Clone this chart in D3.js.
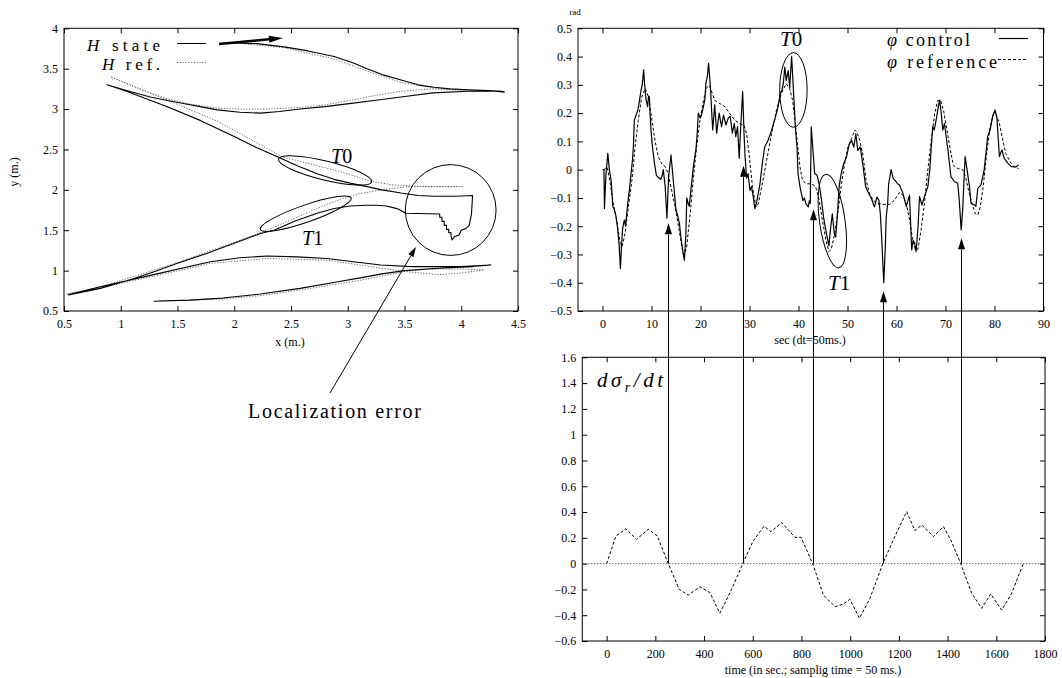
<!DOCTYPE html>
<html><head><meta charset="utf-8">
<script src="https://cdn.jsdelivr.net/npm/d3@7"></script>
<style>body{margin:0;background:#fff}</style>
</head><body><svg id="c" width="1062" height="678"></svg>
<script>
// ---------------- DATA ----------------
// Left panel: robot trajectory (x,y in metres)
const hState = [[2.00,3.82],[2.20,3.81],[2.44,3.77],[2.65,3.72],[2.88,3.65],[3.05,3.57],[3.17,3.50],[3.32,3.42],[3.47,3.36],[3.62,3.30],[3.76,3.27],[3.90,3.25],[4.06,3.24],[4.25,3.23],[4.36,3.22],[4.38,3.21],
 [4.30,3.22],[4.06,3.22],[3.75,3.20],[3.47,3.15],[3.25,3.11],[3.03,3.07],[2.80,3.03],[2.58,3.00],[2.40,2.97],[2.23,2.95],[2.05,2.96],[1.85,2.99],[1.70,3.03],[1.55,3.07],[1.40,3.11],[1.26,3.15],[1.05,3.23],[0.88,3.30],
 [1.05,3.22],[1.41,3.03],[1.70,2.86],[2.00,2.66],[2.20,2.52],[2.38,2.41],[2.55,2.30],[2.73,2.20],[2.88,2.13],[3.03,2.08],[3.17,2.04],[3.30,2.00],[3.47,1.96],[3.62,1.93],[3.76,1.92],[3.95,1.92],[4.10,1.93],
 [4.09,1.70],[4.07,1.56],[4.04,1.52],[4.00,1.50],[3.98,1.44],[3.94,1.42],[3.92,1.38],[3.91,1.42],[3.91,1.47],[3.89,1.47],[3.89,1.51],[3.87,1.51],[3.87,1.56],[3.85,1.56],[3.85,1.61],[3.83,1.61],[3.83,1.66],[3.81,1.66],[3.81,1.70],[3.51,1.71],
 [3.45,1.76],[3.40,1.78],[3.34,1.80],[3.25,1.81],[3.16,1.81],[3.02,1.80],[2.88,1.77],[2.73,1.71],[2.53,1.61],[2.35,1.50],[2.23,1.46],[2.00,1.34],[1.75,1.21],[1.50,1.09],[1.30,0.99],[1.11,0.90],[0.82,0.78],[0.54,0.70],
 [0.82,0.80],[1.29,0.95],[1.79,1.11],[2.05,1.16],[2.29,1.18],[2.55,1.17],[2.82,1.15],[3.05,1.11],[3.29,1.07],[3.56,1.05],[4.00,1.05],[4.26,1.07],
 [4.10,1.05],[3.80,1.03],[3.50,1.00],[3.30,0.96],[3.11,0.91],[2.90,0.86],[2.58,0.78],[2.23,0.71],[1.90,0.66],[1.60,0.635],[1.29,0.62]];
const hRef = [[2.00,3.82],[2.44,3.76],[2.88,3.62],[3.17,3.47],[3.47,3.33],[3.76,3.26],[4.06,3.23],[4.22,3.22],
 [4.06,3.23],[3.76,3.25],[3.47,3.22],[3.25,3.17],[3.03,3.11],[2.80,3.05],[2.58,3.02],[2.30,3.00],[2.05,3.00],[1.85,3.01],[1.62,3.06],[1.40,3.13],[1.20,3.23],[0.91,3.40],
 [1.38,3.13],[1.85,2.85],[2.10,2.66],[2.42,2.41],[2.70,2.31],[3.00,2.20],[3.19,2.11],[3.40,2.06],[3.70,2.04],[4.01,2.04],
 [3.53,2.04],[3.30,2.00],[3.10,1.95],[2.95,1.89],[2.78,1.80],[2.60,1.69],[2.42,1.58],[2.25,1.48],[2.00,1.35],[1.50,1.10],[1.10,0.92],[0.80,0.79],[0.52,0.71],
 [0.82,0.79],[1.29,0.93],[1.79,1.09],[2.29,1.15],[2.82,1.13],[3.29,1.03],[3.56,0.98],[3.80,0.95],[4.00,0.97],[4.20,1.01],
 [4.00,1.02],[3.70,1.02],[3.50,0.99],[3.11,0.88],[2.58,0.76],[2.23,0.69],[1.90,0.65],[1.60,0.63],[1.35,0.63]];
const leftXTicks = [0.5,1,1.5,2,2.5,3,3.5,4,4.5];
const leftXLabels = ["0.5","1","1.5","2","2.5","3","3.5","4","4.5"];
const leftYTicks = [0.5,1,1.5,2,2.5,3,3.5,4];
const leftYLabels = ["0.5","1","1.5","2","2.5","3","3.5","4"];

// Top-right panel: steering angle phi (rad) vs time (s)
const phiControl = [[0.0,0.0],[0.3,0.0],[0.4,-0.137],[0.7,-0.02],[1.08,0.058],[1.4,0.0],[1.75,-0.036],[2.1,-0.13],[2.4,-0.14],[2.77,-0.166],[3.1,-0.21],[3.4,-0.27],[3.66,-0.35],[3.85,-0.28],[4.1,-0.21],[4.3,-0.19],[4.48,-0.178],[4.7,-0.2],[5.15,-0.12],[5.5,-0.07],[5.83,-0.013],[6.1,0.03],[6.3,0.08],[6.5,0.176],[6.8,0.19],[7.0,0.2],[7.2,0.21],[7.5,0.24],[7.86,0.28],[8.1,0.3],[8.4,0.353],[8.6,0.3],[8.9,0.247],[9.2,0.223],[9.4,0.26],[9.57,0.258],[9.7,0.2],[9.9,0.14],[10.2,0.08],[10.6,0.023],[11.0,-0.02],[11.26,-0.025],[11.9,-0.034],[12.2,-0.02],[12.4,0.0],[12.8,-0.06],[13.15,-0.172],[13.5,-0.025],[13.97,0.052],[14.2,0.01],[14.5,-0.048],[15.0,-0.143],[15.3,-0.16],[15.7,-0.19],[16.0,-0.24],[16.35,-0.284],[16.7,-0.32],[17.0,-0.237],[17.2,-0.10],[17.5,-0.12],[17.7,-0.13],[18.0,-0.08],[18.4,-0.013],[18.7,0.03],[19.06,0.07],[19.3,0.12],[19.55,0.2],[19.96,0.182],[20.3,0.2],[20.6,0.223],[20.9,0.25],[21.1,0.306],[21.4,0.33],[21.65,0.376],[21.9,0.32],[22.1,0.27],[22.3,0.2],[22.5,0.14],[22.9,0.229],[23.3,0.129],[23.8,0.2],[24.3,0.152],[24.7,0.193],[25.2,0.158],[25.66,0.182],[26.07,0.188],[26.5,0.129],[26.9,0.164],[27.2,0.117],[27.56,0.152],[27.9,0.04],[28.2,0.15],[28.6,0.276],[28.9,0.12],[29.1,0.046],[29.4,-0.03],[29.7,-0.014],[30.1,-0.073],[30.4,-0.06],[30.8,-0.1],[31.1,-0.138],[31.4,-0.12],[32.1,-0.055],[32.6,0.02],[33.1,0.08],[33.8,0.104],[34.5,0.139],[35.2,0.18],[35.8,0.22],[36.3,0.27],[36.6,0.28],[36.9,0.304],[37.2,0.363],[37.5,0.316],[37.9,0.35],[38.2,0.29],[38.6,0.40],[39.0,0.27],[39.4,0.14],[39.7,0.08],[39.9,-0.014],[40.3,-0.06],[40.6,-0.085],[40.9,-0.11],[41.2,-0.1],[41.5,-0.12],[42.0,-0.132],[42.2,-0.11],[42.4,-0.12],[42.6,0.151],[43.0,0.057],[43.3,-0.014],[43.8,-0.02],[44.2,-0.05],[44.7,-0.108],[45.1,-0.167],[45.7,-0.226],[46.2,-0.27],[46.5,-0.215],[46.9,-0.156],[47.3,-0.226],[47.6,-0.238],[47.9,-0.167],[48.3,-0.06],[48.7,-0.014],[49.2,0.02],[49.8,0.045],[50.3,0.086],[50.8,0.104],[51.3,0.08],[51.7,0.127],[52.1,0.068],[52.6,0.08],[53.2,0.01],[53.7,-0.06],[54.2,-0.08],[54.9,-0.103],[55.5,-0.132],[56.0,-0.097],[56.4,-0.108],[56.7,-0.156],[57.0,-0.25],[57.4,-0.40],[57.7,-0.28],[57.9,-0.167],[58.2,-0.12],[58.4,-0.05],[58.9,0.0],[59.3,-0.03],[59.9,-0.042],[60.2,-0.05],[60.6,-0.054],[61.3,-0.083],[62.0,-0.131],[62.65,-0.09],[63.1,-0.284],[63.4,-0.25],[63.7,-0.26],[64.0,-0.29],[64.4,-0.2],[64.7,-0.095],[65.2,-0.125],[65.7,-0.095],[66.4,-0.06],[66.8,0.0],[67.1,0.081],[67.4,0.152],[67.7,0.14],[68.2,0.187],[68.5,0.22],[68.8,0.246],[69.1,0.205],[69.45,0.14],[69.8,0.164],[70.1,0.12],[70.5,0.07],[71.1,-0.025],[71.8,-0.042],[72.5,-0.048],[72.8,-0.107],[73.2,-0.213],[73.5,-0.143],[74.0,0.046],[74.4,0.0],[74.9,-0.06],[75.2,-0.119],[75.9,-0.125],[76.2,-0.13],[76.6,-0.066],[77.25,-0.054],[77.9,0.0],[78.6,0.117],[79.1,0.14],[79.6,0.187],[80.1,0.211],[80.5,0.182],[81.0,0.046],[81.5,0.07],[82.0,0.04],[82.7,0.023],[83.4,0.011],[84.4,0.01],[84.9,0.017]];
const phiReference = [[0.3,0.0],[0.9,0.01],[1.2,-0.01],[1.7,-0.06],[2.2,-0.12],[2.9,-0.18],[3.6,-0.26],[3.9,-0.28],[4.6,-0.226],[5.3,-0.13],[6.0,-0.038],[6.65,0.08],[7.3,0.175],[8.0,0.257],[8.7,0.287],[9.4,0.257],[10.0,0.186],[10.7,0.104],[11.4,0.045],[12.1,0.02],[12.8,0.01],[13.4,-0.014],[14.1,-0.073],[14.8,-0.13],[15.5,-0.2],[16.2,-0.27],[16.6,-0.31],[17.2,-0.27],[17.9,-0.155],[18.5,-0.038],[19.2,0.08],[19.9,0.175],[20.6,0.245],[21.25,0.29],[21.8,0.298],[22.3,0.275],[22.9,0.245],[24.0,0.233],[25.0,0.222],[26.0,0.198],[27.0,0.175],[28.0,0.163],[28.9,0.157],[29.4,0.127],[29.9,0.057],[30.6,-0.06],[31.3,-0.132],[31.8,-0.12],[32.5,-0.06],[33.5,0.033],[34.5,0.127],[35.5,0.21],[36.5,0.27],[37.5,0.304],[38.2,0.287],[38.8,0.245],[39.2,0.186],[39.7,0.104],[40.3,0.01],[40.8,-0.038],[41.6,-0.05],[42.6,-0.05],[43.5,-0.06],[44.2,-0.108],[44.9,-0.18],[45.6,-0.25],[46.2,-0.29],[46.7,-0.28],[47.4,-0.226],[48.1,-0.144],[48.7,-0.06],[49.4,0.02],[50.1,0.08],[50.8,0.11],[51.5,0.14],[51.9,0.133],[52.5,0.104],[53.2,0.045],[53.8,-0.038],[54.5,-0.085],[55.2,-0.108],[56.2,-0.12],[57.2,-0.123],[58.6,-0.123],[59.6,-0.108],[60.6,-0.08],[61.3,-0.09],[62.0,-0.12],[62.7,-0.18],[63.3,-0.25],[63.9,-0.285],[64.4,-0.28],[65.0,-0.215],[65.7,-0.12],[66.4,0.0],[67.1,0.104],[67.8,0.198],[68.4,0.245],[69.0,0.245],[69.6,0.21],[70.3,0.139],[71.0,0.068],[71.6,0.015],[72.5,0.004],[73.5,0.0],[74.1,-0.026],[74.7,-0.073],[75.4,-0.12],[76.1,-0.156],[76.6,-0.16],[77.1,-0.132],[77.7,-0.06],[78.4,0.057],[79.1,0.15],[79.8,0.198],[80.3,0.198],[81.0,0.163],[81.7,0.104],[82.3,0.057],[83.2,0.027],[84.0,0.01],[84.9,0.004]];
const topXTicks = [0,10,20,30,40,50,60,70,80,90];
const topXLabels = ["0","10","20","30","40","50","60","70","80","90"];
const topYTicks = [-0.5,-0.4,-0.3,-0.2,-0.1,0,0.1,0.2,0.3,0.4,0.5];
const topYLabels = ["\u22120.5","\u22120.4","\u22120.3","\u22120.2","\u22120.1","0","0.1","0.2","0.3","0.4","0.5"];

// Bottom-right panel: d sigma_r / dt
const sigmaTime = [0,38,79,123,171,208,253,298,335,383,424,465,513,559,600,646,675,719,773,798,846,890,938,972,999,1038,1081,1134,1177,1232,1266,1294,1342,1383,1413,1454,1499,1540,1577,1622,1663,1711];
const sigmaRate = [0,0.214,0.27,0.188,0.266,0.214,0,-0.2,-0.244,-0.18,-0.225,-0.385,-0.2,0,0.17,0.29,0.248,0.318,0.204,0.204,0,-0.244,-0.334,-0.313,-0.277,-0.424,-0.27,0,0.184,0.403,0.256,0.3,0.21,0.287,0.184,0,-0.23,-0.347,-0.235,-0.36,-0.23,0];
const botXTicks = [0,200,400,600,800,1000,1200,1400,1600,1800];
const botXLabels = ["0","200","400","600","800","1000","1200","1400","1600","1800"];
const botYTicks = [-0.6,-0.4,-0.2,0,0.2,0.4,0.6,0.8,1,1.2,1.4,1.6];
const botYLabels = ["\u22120.6","\u22120.4","\u22120.2","0","0.2","0.4","0.6","0.8","1","1.2","1.4","1.6"];

// Link arrows: zero crossings (bottom time) -> arrow tip value in top panel
const crossTimes = [253,559,846,1134,1454];
const crossTips = [-0.19,0.014,-0.14,-0.43,-0.243];

// ---------------- DRAWING ----------------
const FONT = '"Liberation Serif","Times New Roman",serif';
const svg = d3.select('#c');

const xL = d3.scaleLinear().domain([0.5,4.5]).range([64,518]);
const yL = d3.scaleLinear().domain([0.5,4]).range([311,28.3]);
const xT = d3.scaleLinear().domain([-5,90]).range([578,1043.5]);
const yT = d3.scaleLinear().domain([-0.5,0.5]).range([311,28.3]);
const xB = d3.scaleLinear().domain([-100,1800]).range([582.3,1045]);
const yB = d3.scaleLinear().domain([-0.6,1.6]).range([641,357.3]);

function axes(x,y,xt,xlab,yt,ylab){
  const [xa,xb]=x.range(), [ya,yb]=y.range();
  const style = g => {
    g.select('.domain').remove();
    g.attr('font-family',null).attr('font-size',null);
    g.selectAll('line').attr('stroke','#000');
    g.selectAll('text').attr('font-family',FONT).attr('font-size',12).attr('fill','#000');
  };
  svg.append('g').attr('transform',`translate(0,${ya})`)
    .call(d3.axisBottom(x).tickValues(xt).tickFormat((d,i)=>xlab[i]).tickSizeInner(-5).tickSizeOuter(0).tickPadding(8)).call(style);
  svg.append('g').attr('transform',`translate(0,${yb})`)
    .call(d3.axisTop(x).tickValues(xt).tickFormat(()=>'').tickSizeInner(-5).tickSizeOuter(0)).call(style);
  svg.append('g').attr('transform',`translate(${xa},0)`)
    .call(d3.axisLeft(y).tickValues(yt).tickFormat((d,i)=>ylab[i]).tickSizeInner(-5).tickSizeOuter(0).tickPadding(6)).call(style);
  svg.append('g').attr('transform',`translate(${xb},0)`)
    .call(d3.axisRight(y).tickValues(yt).tickFormat(()=>'').tickSizeInner(-5).tickSizeOuter(0)).call(style);
  svg.append('rect').attr('x',xa).attr('y',yb).attr('width',xb-xa).attr('height',ya-yb)
    .attr('fill','none').attr('stroke','#000').attr('stroke-width',1);
}

function label(x,y,parts,size,opts={}){
  const t = svg.append('text').attr('x',x).attr('y',y).attr('font-family',FONT).attr('font-size',size).attr('fill','#000');
  if(opts.anchor) t.attr('text-anchor',opts.anchor);
  if(opts.rotate) t.attr('transform',`rotate(${opts.rotate},${x},${y})`);
  parts.forEach(p=>{
    const s = t.append('tspan').text(p.s);
    if(p.i) s.attr('font-style','italic');
    if(p.dy) s.attr('dy',p.dy);
    if(p.fs) s.attr('font-size',p.fs);
  });
  if(opts.len) t.attr('textLength',opts.len).attr('lengthAdjust',opts.adjust||'spacing');
  return t;
}

function arrow(x1,y1,x2,y2,headLen,headHalf,width){
  const dx=x2-x1, dy=y2-y1, L=Math.hypot(dx,dy), ux=dx/L, uy=dy/L;
  const bx=x2-ux*headLen, by=y2-uy*headLen;
  svg.append('line').attr('x1',x1).attr('y1',y1).attr('x2',bx).attr('y2',by).attr('stroke','#000').attr('stroke-width',width);
  svg.append('path').attr('d',`M${x2},${y2}L${bx-uy*headHalf},${by+ux*headHalf}L${bx+uy*headHalf},${by-ux*headHalf}Z`).attr('fill','#000');
}

function tiltedEllipse(p1,p2,b){
  const cx=(p1[0]+p2[0])/2, cy=(p1[1]+p2[1])/2;
  const a=Math.hypot(p2[0]-p1[0],p2[1]-p1[1])/2;
  const ang=Math.atan2(p2[1]-p1[1],p2[0]-p1[0])*180/Math.PI;
  svg.append('ellipse').attr('cx',0).attr('cy',0).attr('rx',a).attr('ry',b)
    .attr('transform',`translate(${cx},${cy}) rotate(${ang})`).attr('fill','none').attr('stroke','#000').attr('stroke-width',1);
}

// ---- Left panel ----
axes(xL,yL,leftXTicks,leftXLabels,leftYTicks,leftYLabels);
const lineL = d3.line().x(d=>xL(d[0])).y(d=>yL(d[1]));
svg.append('path').attr('d',lineL(hRef)).attr('fill','none').attr('stroke','#666').attr('stroke-width',1).attr('stroke-dasharray','1.2,1.6');
svg.append('path').attr('d',lineL(hState)).attr('fill','none').attr('stroke','#000').attr('stroke-width',1.1).attr('stroke-linejoin','round');

// legend
label(160,51,[{s:'H',i:true},{s:' state'}],17,{anchor:'end',len:73});
label(160,70,[{s:'H',i:true},{s:' ref.'}],17,{anchor:'end',len:58});
svg.append('line').attr('x1',177).attr('x2',206).attr('y1',43.5).attr('y2',43.5).attr('stroke','#000');
svg.append('line').attr('x1',177).attr('x2',206).attr('y1',62.5).attr('y2',62.5).attr('stroke','#666').attr('stroke-dasharray','1.2,1.6');
arrow(xL(1.866),yL(3.806),xL(2.429),yL(3.88),14,3.5,2.4);

// annotations
tiltedEllipse([xL(2.39),yL(2.38)],[xL(3.21),yL(2.10)],9.5);
tiltedEllipse([xL(2.23),yL(1.51)],[xL(3.03),yL(1.90)],8.5);
svg.append('circle').attr('cx',xL(3.907)).attr('cy',yL(1.75)).attr('r',xL(3.907+0.40)-xL(3.907)).attr('fill','none').attr('stroke','#000');
label(331,163,[{s:'T',i:true},{s:'0'}],20);
label(302,245,[{s:'T',i:true},{s:'1'}],20);
label(18,172,[{s:'y (m.)'}],12,{anchor:'middle',rotate:-90});
label(290,346,[{s:'x (m.)'}],12,{anchor:'middle'});
arrow(330,393,416,247,10,3,1);
label(248,418,[{s:'Localization error'}],20,{len:173});

// ---- Top-right panel ----
axes(xT,yT,topXTicks,topXLabels,topYTicks,topYLabels);
const lineT = d3.line().x(d=>xT(d[0])).y(d=>yT(d[1]));
svg.append('path').attr('d',lineT(phiReference)).attr('fill','none').attr('stroke','#000').attr('stroke-width',1).attr('stroke-dasharray','3,2');
svg.append('path').attr('d',lineT(phiControl)).attr('fill','none').attr('stroke','#000').attr('stroke-width',1.2).attr('stroke-linejoin','round');
label(887,46,[{s:'\u03c6',i:true},{s:' control'}],18,{len:83});
label(887,68,[{s:'\u03c6',i:true},{s:' reference'}],18,{len:110});
svg.append('line').attr('x1',999).attr('x2',1028).attr('y1',38.5).attr('y2',38.5).attr('stroke','#000').attr('stroke-width',1.2);
svg.append('line').attr('x1',998).attr('x2',1027).attr('y1',59.5).attr('y2',59.5).attr('stroke','#000').attr('stroke-dasharray','3,2');
svg.append('ellipse').attr('cx',xT(38.96)).attr('cy',yT(0.282)).attr('rx',xT(38.96+2.8)-xT(38.96)).attr('ry',yT(0.282-0.132)-yT(0.282)).attr('fill','none').attr('stroke','#000');
svg.append('ellipse').attr('cx',0).attr('cy',0).attr('rx',xT(46.9+2.6)-xT(46.9)).attr('ry',yT(-0.182-0.167)-yT(-0.182))
  .attr('transform',`translate(${xT(46.9)},${yT(-0.182)}) rotate(-8)`).attr('fill','none').attr('stroke','#000');
label(780,46,[{s:'T',i:true},{s:'0'}],21);
label(828,290,[{s:'T',i:true},{s:'1'}],21);
label(575,15,[{s:'rad'}],9,{anchor:'middle'});
label(810,344,[{s:'sec (dt=50ms.)'}],12,{anchor:'middle'});

// ---- Bottom-right panel ----
axes(xB,yB,botXTicks,botXLabels,botYTicks,botYLabels);
svg.append('line').attr('x1',xB.range()[0]).attr('x2',xB.range()[1]).attr('y1',yB(0)).attr('y2',yB(0))
  .attr('stroke','#333').attr('stroke-width',1).attr('stroke-dasharray','1,2');
const lineB = d3.line().x((d,i)=>xB(sigmaTime[i])).y(d=>yB(d));
svg.append('path').attr('d',lineB(sigmaRate)).attr('fill','none').attr('stroke','#000').attr('stroke-width',1).attr('stroke-dasharray','3,2');
label(597,387,[{s:'d\u03c3',i:true},{s:'r',i:true,dy:5,fs:14},{s:'/dt',i:true,dy:-5}],21,{len:66});
label(813,674,[{s:'time (in sec.; samplig time = 50 ms.)'}],12,{anchor:'middle'});

// link arrows between panels
crossTimes.forEach((t,i)=>{
  const px = Math.round(xB(t))+0.5;
  arrow(px,yB(0),px,yT(crossTips[i]),11,3.5,1);
});
</script></body></html>
